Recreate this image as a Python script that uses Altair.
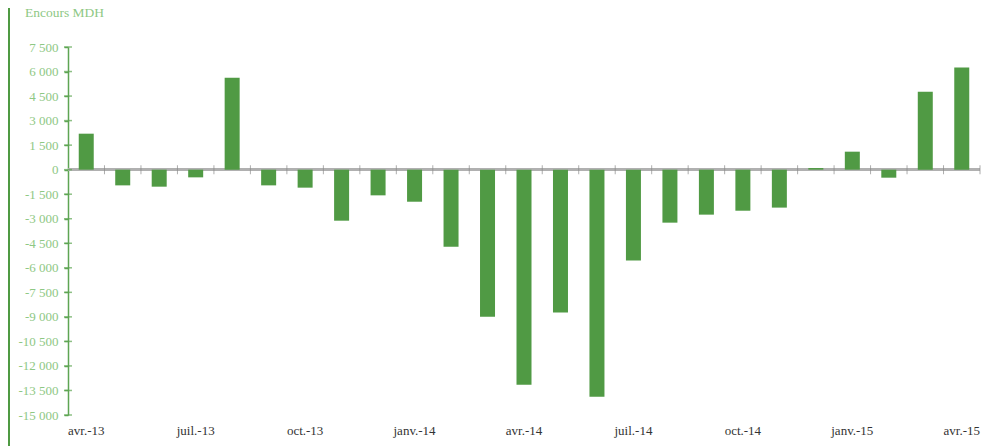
import altair as alt
import pandas as pd

months = ["avr.-13", "mai-13", "juin-13", "juil.-13", "août-13", "sept.-13",
          "oct.-13", "nov.-13", "déc.-13", "janv.-14", "févr.-14", "mars-14",
          "avr.-14", "mai-14", "juin-14", "juil.-14", "août-14", "sept.-14",
          "oct.-14", "nov.-14", "déc.-14", "janv.-15", "févr.-15", "mars-15",
          "avr.-15"]
values = [2200, -960, -1040, -470, 5625, -960, -1100, -3120, -1570, -1960,
          -4710, -8990, -13150, -8740, -13880, -5560, -3240, -2750, -2510,
          -2320, 100, 1100, -490, 4770, 6240]
x_labels = ["avr.-13", "juil.-13", "oct.-13", "janv.-14", "avr.-14",
            "juil.-14", "oct.-14", "janv.-15", "avr.-15"]
y_ticks = [-15000, -13500, -12000, -10500, -9000, -7500, -6000, -4500,
           -3000, -1500, 0, 1500, 3000, 4500, 6000, 7500]
title_text = ["Encours MDH"]

df = pd.DataFrame({"month": months, "value": values})
tick_df = pd.DataFrame({"t": y_ticks})
title_df = pd.DataFrame({"label": title_text})

W, H = 912, 368
FONT = "Liberation Serif"
BAR = "#509a44"
AXIS_GREEN = "#5ea553"
LABEL_GREEN = "#8ec884"

x_scale = alt.Scale(domain=months, paddingInner=0, paddingOuter=0)
x_axis = alt.Axis(values=x_labels, domain=False, ticks=False, labelAngle=0,
                  labelPadding=9, labelFont=FONT, labelFontSize=13,
                  labelColor="#333333", labelOverlap=False, title=None)
y_scale = alt.Scale(domain=[-15000, 7500], nice=False, zero=False)
y_axis = alt.Axis(
    values=y_ticks, grid=False, title=None, domainColor=AXIS_GREEN,
    domainWidth=1.5, tickColor=AXIS_GREEN, tickSize=4, tickWidth=1.5,
    labelPadding=6, labelFont=FONT, labelFontSize=13, labelColor=LABEL_GREEN,
    labelOverlap=False,
    labelExpr="(datum.value < 0 ? '-' : '') + replace(format(abs(datum.value), ','), ',', ' ')",
)


def xenc(band=0.5):
    return alt.X("month:N", sort=months, title=None, scale=x_scale,
                 axis=x_axis, bandPosition=band)


bars = alt.Chart(df).mark_bar(size=15, color=BAR).encode(
    x=alt.X("month:N", sort=months, title=None, scale=x_scale, axis=x_axis),
    y=alt.Y("value:Q", title=None, scale=y_scale, axis=y_axis),
)

zero_line = alt.Chart(df).mark_rule(color="#b0b0b0", strokeWidth=2).encode(
    y=alt.Y(datum=0, scale=y_scale, axis=y_axis),
)

cat_ticks = alt.Chart(df).transform_filter(
    alt.datum.month != months[0]
).mark_tick(orient="vertical", size=9, thickness=1, color="#8a8a8a").encode(
    x=xenc(0),
    y=alt.Y(datum=0, scale=y_scale, axis=y_axis),
)

end_tick = alt.Chart(df).transform_filter(
    alt.datum.month == months[-1]
).mark_tick(orient="vertical", size=9, thickness=1, color="#8a8a8a").encode(
    x=xenc(1),
    y=alt.Y(datum=0, scale=y_scale, axis=y_axis),
)

y_inner_ticks = alt.Chart(tick_df).mark_tick(
    orient="horizontal", size=8, thickness=1.5, color=AXIS_GREEN
).encode(
    x=alt.value(0),
    y=alt.Y("t:Q", title=None, scale=y_scale, axis=y_axis),
)

title = alt.Chart(title_df).mark_text(
    font=FONT, fontSize=13.5, color=LABEL_GREEN,
    align="left", baseline="alphabetic",
).encode(x=alt.value(-43), y=alt.value(-30), text="label:N")

border = alt.Chart(title_df).mark_rule(color="#4f9a43", strokeWidth=2).encode(
    x=alt.value(-59), y=alt.value(-39), y2=alt.value(H + 31)
)

chart = alt.layer(
    zero_line, bars, cat_ticks, end_tick, y_inner_ticks, title, border
).properties(
    width=W, height=H,
    padding={"left": 60, "top": 39, "right": 12, "bottom": 31},
    autosize=alt.AutoSizeParams(type="none"),
).configure_view(stroke=None).configure_axis(
    labelFont=FONT, labelFontSize=13
)

chart.save("out.html", embed_options={"renderer": "svg", "actions": False})
